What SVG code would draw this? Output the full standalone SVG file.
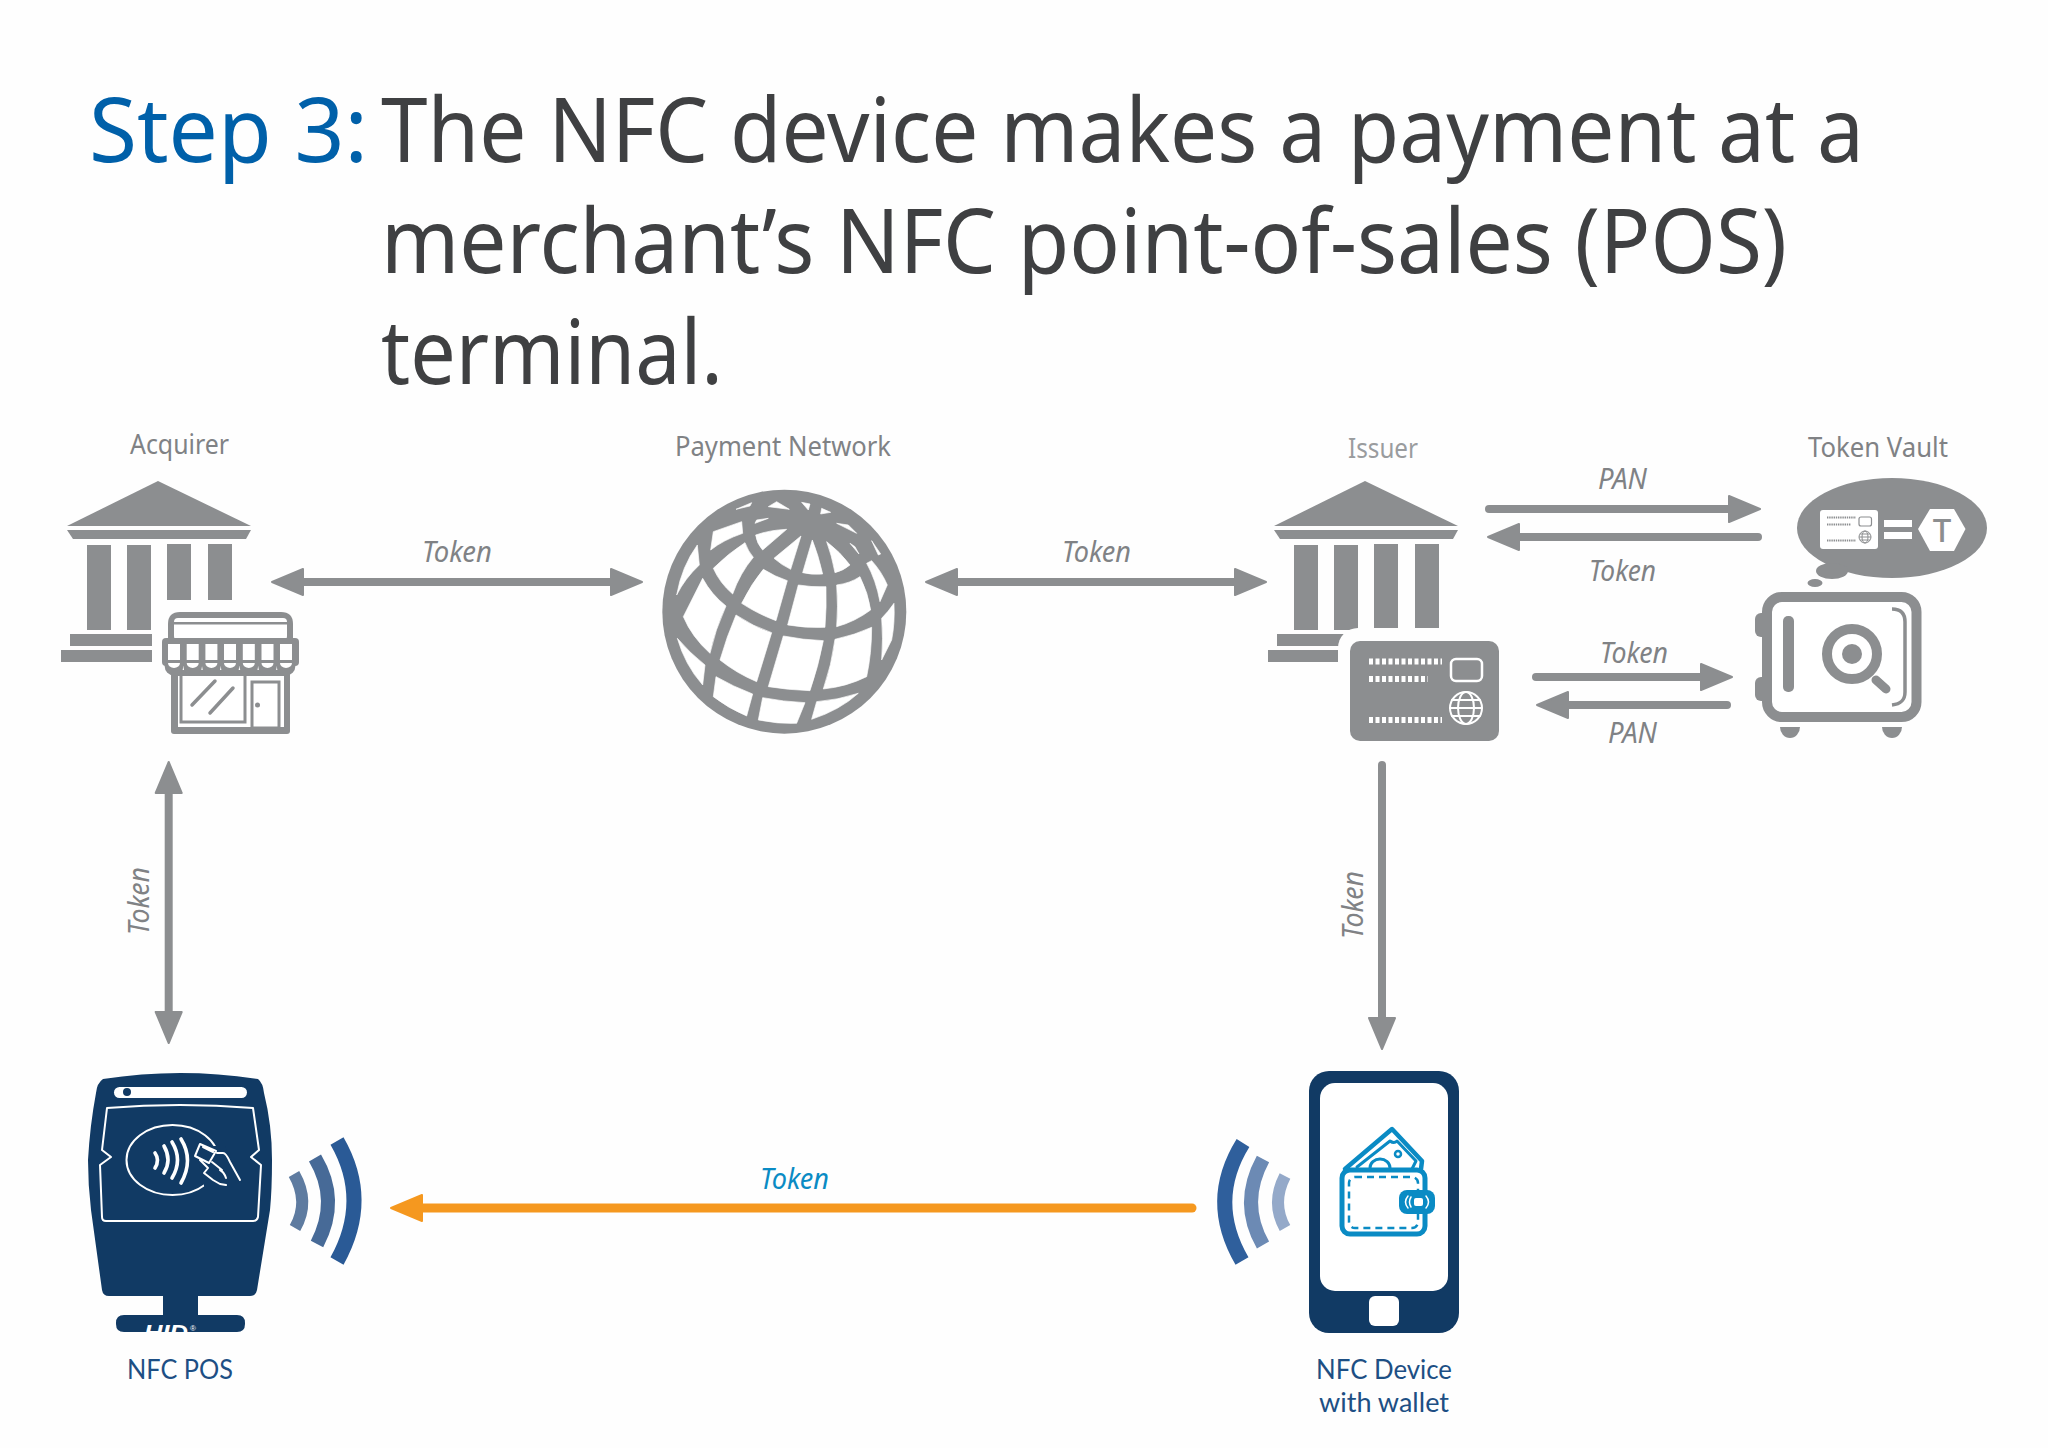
<svg xmlns="http://www.w3.org/2000/svg" xmlns:xlink="http://www.w3.org/1999/xlink" width="2048" height="1448" viewBox="0 0 2048 1448">
<style>
text{font-family:"Noto Sans","Open Sans","Liberation Sans",sans-serif}
.title{font-size:90px;fill:#3f4042}
.step{font-size:90px;fill:#0060a9}
.lab{font-size:27px;fill:#808285}
.tok{font-size:29px;fill:#808285;font-style:italic}
.nfc{font-size:27px;fill:#1d4f84;font-family:Lato,"Liberation Sans",sans-serif}
.g{fill:#8c8e90}
.conn{fill:none;stroke:#8c8e90;stroke-width:8;stroke-linecap:round}
.wave{fill:none;stroke-linecap:butt}
.w{fill:none;stroke:#fff;stroke-linecap:round;stroke-linejoin:round}
.wb{fill:none;stroke:#0a8bc4;stroke-linecap:round;stroke-linejoin:round}
</style>
<defs>
<marker id="head" markerUnits="userSpaceOnUse" markerWidth="40" markerHeight="34" refX="1" refY="17" orient="auto-start-reverse" viewBox="0 0 40 34"><path d="M1,4 L32,17 L1,30 Z" fill="#8c8e90" stroke="#8c8e90" stroke-width="2" stroke-linejoin="round"/></marker>
<marker id="headO" markerUnits="userSpaceOnUse" markerWidth="40" markerHeight="34" refX="1" refY="17" orient="auto-start-reverse" viewBox="0 0 40 34"><path d="M1,4 L32,17 L1,30 Z" fill="#f5981f" stroke="#f5981f" stroke-width="2" stroke-linejoin="round"/></marker>
<g id="bank" class="g">
<path d="M158,481 L251,526 H67 Z"/>
<path d="M67,530 H251 L246,539 H73 Z"/>
<rect x="87" y="545" width="24" height="85"/>
<rect x="127" y="545" width="24" height="85"/>
<rect x="167" y="544" width="24" height="86"/>
<rect x="208" y="544" width="24" height="86"/>
<rect x="70" y="634" width="100" height="12"/>
<rect x="61" y="650" width="100" height="12"/>
</g>
<path id="cres" d="M-6,663 h12 a6,5 0 0 1 -12 0 Z" fill="#fff"/>
<rect id="pan" x="-6" y="644" width="12" height="16" fill="#fff"/>
<clipPath id="hidclip"><rect x="130" y="1322" width="80" height="10"/></clipPath>
</defs>
<rect width="2048" height="1448" fill="#fefefe"/>

<g id="title">
<text class="step" x="89" y="162" textLength="279" lengthAdjust="spacingAndGlyphs">Step 3:</text>
<text class="title" x="381" y="162" textLength="1483" lengthAdjust="spacingAndGlyphs">The NFC device makes a payment at a</text>
<text class="title" x="381" y="273" textLength="1406" lengthAdjust="spacingAndGlyphs">merchant’s NFC point-of-sales (POS)</text>
<text class="title" x="381" y="384" textLength="342" lengthAdjust="spacingAndGlyphs">terminal.</text>
</g>

<g id="connectors">
<path class="conn" style="stroke-linecap:butt" d="M303,582 H611" marker-start="url(#head)" marker-end="url(#head)"/>
<path class="conn" style="stroke-linecap:butt" d="M957,582 H1235" marker-start="url(#head)" marker-end="url(#head)"/>
<path class="conn" d="M1489,509 H1729" marker-end="url(#head)"/>
<path class="conn" d="M1758,537 H1519" marker-end="url(#head)"/>
<path class="conn" d="M1536,677 H1701" marker-end="url(#head)"/>
<path class="conn" d="M1727,705 H1568" marker-end="url(#head)"/>
<path class="conn" style="stroke-linecap:butt" d="M168.7,793 V1012" marker-start="url(#head)" marker-end="url(#head)"/>
<path class="conn" d="M1382,765 V1018" marker-end="url(#head)"/>
<path class="conn" style="stroke:#f5981f;stroke-width:9" d="M1192,1208 H422" marker-end="url(#headO)"/>
<text class="tok" x="422" y="562" textLength="70" lengthAdjust="spacingAndGlyphs">Token</text>
<text class="tok" x="1062" y="562" textLength="69" lengthAdjust="spacingAndGlyphs">Token</text>
<text class="tok" x="1598" y="489" textLength="49" lengthAdjust="spacingAndGlyphs">PAN</text>
<text class="tok" x="1589" y="581" textLength="67" lengthAdjust="spacingAndGlyphs">Token</text>
<text class="tok" x="1600" y="663" textLength="68" lengthAdjust="spacingAndGlyphs">Token</text>
<text class="tok" x="1608" y="743" textLength="49" lengthAdjust="spacingAndGlyphs">PAN</text>
<text class="tok" transform="translate(149,935) rotate(-90)" x="0" y="0" textLength="68" lengthAdjust="spacingAndGlyphs">Token</text>
<text class="tok" transform="translate(1363,939) rotate(-90)" x="0" y="0" textLength="68" lengthAdjust="spacingAndGlyphs">Token</text>
<text class="tok" style="fill:#0a8bc4" x="760" y="1189" textLength="69" lengthAdjust="spacingAndGlyphs">Token</text>
</g>

<g id="acquirer">
<text class="lab" x="130" y="454" textLength="99" lengthAdjust="spacingAndGlyphs">Acquirer</text>
<use xlink:href="#bank" href="#bank"/>
<rect x="152" y="600" width="155" height="140" fill="#fefefe"/>
<g id="store">
<path class="g" d="M168,640 V624 Q168,612 180,612 H281 Q293,612 293,624 V640 Z"/>
<rect x="174" y="618" width="113" height="22" rx="4" fill="#fff"/>
<rect x="174" y="622" width="113" height="2.5" class="g"/>
<rect class="g" x="162" y="638" width="137" height="28" rx="4"/>
<rect class="g" x="171" y="670" width="119" height="64" rx="3"/>
<path d="M178,676 H284 V727 H178 Z" fill="#fff"/>
<g class="g"><circle cx="174" cy="666" r="9.4"/><circle cx="192.7" cy="666" r="9.4"/><circle cx="211.4" cy="666" r="9.4"/><circle cx="230" cy="666" r="9.4"/><circle cx="248.8" cy="666" r="9.4"/><circle cx="267.5" cy="666" r="9.4"/><circle cx="286" cy="666" r="9.4"/></g>
<use xlink:href="#pan" href="#pan" x="174"/><use xlink:href="#pan" href="#pan" x="192.7"/><use xlink:href="#pan" href="#pan" x="211.4"/><use xlink:href="#pan" href="#pan" x="230"/><use xlink:href="#pan" href="#pan" x="248.8"/><use xlink:href="#pan" href="#pan" x="267.5"/><use xlink:href="#pan" href="#pan" x="286"/>
<use xlink:href="#cres" href="#cres" x="174"/><use xlink:href="#cres" href="#cres" x="192.7"/><use xlink:href="#cres" href="#cres" x="211.4"/><use xlink:href="#cres" href="#cres" x="230"/><use xlink:href="#cres" href="#cres" x="248.8"/><use xlink:href="#cres" href="#cres" x="267.5"/><use xlink:href="#cres" href="#cres" x="286"/>
<path d="M181,674 V722 H245 V676" fill="none" stroke="#8c8e90" stroke-width="3"/>
<rect x="252" y="682" width="27" height="46" fill="none" stroke="#8c8e90" stroke-width="3"/>
<circle class="g" cx="257.500" cy="705" r="2.500"/>
<path d="M192,705 L215,681 M210,713 L233,688" stroke="#8c8e90" stroke-width="3.500" stroke-linecap="round"/>
</g>
</g>

<g id="payment-network">
<text class="lab" x="675" y="456" textLength="216" lengthAdjust="spacingAndGlyphs">Payment Network</text>
<g transform="translate(640,470) scale(0.3333)">
<circle cx="433" cy="425" r="366" fill="#8c8e90"/>
<g fill="#fff" stroke="#fff" stroke-width="2" stroke-linejoin="round">
<path d="M288,118 L335,98 L330,108 Z"/>
<path d="M385,110 L410,95 L448,118 Z"/>
<path d="M485,97 L510,102 L505,120 Z"/>
<path d="M545,115 L572,127 L542,132 Z"/>
<path d="M345,160 L385,145 L350,150 Z"/>
<path d="M590,160 L625,165 L650,190 Z"/>
<path d="M212,240 L220,185 L305,155 L308,190 Q250,210 212,240 Z"/>
<path d="M347,195 Q390,180 440,178 L368,240 Q350,220 347,195 Z"/>
<path d="M630,220 L645,230 L657,252 Z"/>
<path d="M695,212 L722,252 L715,255 Z"/>
<path d="M110,375 Q125,290 172,225 L178,285 Q135,325 110,375 Z"/>
<path d="M220,295 Q265,250 315,218 Q325,245 340,262 Q300,310 278,372 Q240,340 220,295 Z"/>
<path d="M402,265 L483,198 L452,298 Q425,285 402,265 Z"/>
<path d="M488,308 Q505,250 517,210 Q535,255 548,312 Q515,315 488,308 Z"/>
<path d="M560,215 Q600,245 630,285 Q610,302 585,308 Q575,255 560,215 Z"/>
<path d="M680,280 L695,272 Q725,305 742,345 L720,395 Q708,330 680,280 Z"/>
<path d="M130,440 L188,325 Q215,375 258,408 Q225,480 210,550 Q155,500 130,440 Z"/>
<path d="M305,400 Q335,340 370,298 Q405,320 442,332 L408,452 Q350,430 305,400 Z"/>
<path d="M475,345 Q515,352 558,350 Q560,410 555,472 Q500,475 443,465 Z"/>
<path d="M590,345 Q630,340 660,320 Q685,370 692,420 Q645,455 590,470 Q595,410 590,345 Z"/>
<path d="M725,445 Q745,425 762,400 Q765,460 755,510 L725,570 Q730,505 725,445 Z"/>
<path d="M240,570 Q260,500 288,435 Q340,470 395,488 L350,635 Q290,610 240,570 Z"/>
<path d="M430,498 Q490,510 550,512 Q535,590 510,662 Q445,660 385,650 Z"/>
<path d="M585,508 Q645,495 695,472 Q695,550 680,620 Q620,650 550,657 Q575,585 585,508 Z"/>
<path d="M112,505 Q150,550 195,585 L188,645 Q135,585 112,505 Z"/>
<path d="M228,620 Q280,650 338,672 L320,738 Q265,715 220,680 Z"/>
<path d="M368,683 Q430,695 495,698 L470,760 Q410,762 355,750 Z"/>
<path d="M530,695 Q595,690 655,670 Q600,720 515,748 Z"/>
</g>
</g>
</g>

<g id="issuer">
<text class="lab" style="fill:#9a9c9e" x="1348" y="458" textLength="70" lengthAdjust="spacingAndGlyphs">Issuer</text>
<use xlink:href="#bank" href="#bank" x="1207"/>
<rect x="1338" y="628" width="172" height="120" rx="20" fill="#fefefe"/>
<g id="card">
<rect class="g" x="1350" y="641" width="149" height="100" rx="10"/>
<path d="M1369,661.500 H1442 M1369,679 H1428 M1369,720 H1442" stroke="#fff" stroke-width="6" stroke-dasharray="4 2.500" fill="none"/>
<rect class="w" style="stroke-width:2.500" x="1451" y="659" width="31" height="22" rx="5"/>
<g class="w" style="stroke-width:2"><circle cx="1466" cy="708" r="16"/><ellipse cx="1466" cy="708" rx="8" ry="16"/><path d="M1452,700 H1480 M1450,708 H1482 M1452,716 H1480"/></g>
</g>
</g>

<g id="token-vault">
<text class="lab" x="1808" y="457" textLength="140" lengthAdjust="spacingAndGlyphs">Token Vault</text>
<g id="bubble">
<ellipse class="g" cx="1892" cy="528" rx="95" ry="50"/>
<ellipse class="g" cx="1832" cy="571" rx="16" ry="8"/>
<ellipse class="g" cx="1815" cy="583" rx="7.500" ry="4"/>
<rect x="1820" y="510" width="58" height="39" rx="3" fill="#fff"/>
<path d="M1827,517.500 H1856 M1827,524.500 H1851 M1827,540.500 H1856" stroke="#8c8e90" stroke-width="2.200" stroke-dasharray="1.400 .8" fill="none"/>
<rect x="1859" y="517" width="12.500" height="9" rx="2" fill="none" stroke="#8c8e90" stroke-width="1.200"/>
<g fill="none" stroke="#8c8e90" stroke-width="1"><circle cx="1865" cy="537" r="6"/><ellipse cx="1865" cy="537" rx="3" ry="6"/><path d="M1859,537 H1871 M1860,534 H1870 M1860,540 H1870"/></g>
<rect x="1884" y="520" width="28" height="7" fill="#fff"/>
<rect x="1884" y="532" width="28" height="7" fill="#fff"/>
<path d="M1918,529 L1930,509 H1954 L1965.500,529 L1954,551 H1930 Z" fill="#fff"/>
<text x="1942" y="542" text-anchor="middle" font-size="33" font-weight="500" fill="#8c8e90">T</text>
</g>
<g id="safe">
<rect class="g" x="1755" y="613" width="15" height="24" rx="6"/>
<rect class="g" x="1755" y="677" width="15" height="24" rx="6"/>
<rect x="1767" y="597" width="149.500" height="120" rx="15" fill="#fff" stroke="#8c8e90" stroke-width="10"/>
<rect class="g" x="1783" y="616" width="11" height="76" rx="5"/>
<circle cx="1852" cy="654" r="25" fill="none" stroke="#8c8e90" stroke-width="10"/>
<circle class="g" cx="1852" cy="654" r="10"/>
<path d="M1876,680 L1886,689" stroke="#8c8e90" stroke-width="9" stroke-linecap="round"/>
<path d="M1892,609 C1900,609 1905,613 1905,622 V692 C1905,701 1900,704 1892,705" fill="none" stroke="#8c8e90" stroke-width="3.500"/>
<path class="g" d="M1780,727 H1800 A10,11 0 0 1 1780,727 Z"/>
<path class="g" d="M1882,727 H1902 A10,11 0 0 1 1882,727 Z"/>
</g>
</g>

<g id="nfc-pos">
<path fill="#113a64" d="M103,1079 Q180,1067 258,1079 Q263,1083 264,1093 Q272,1125 272,1160 Q272,1190 270,1210 L257,1290 Q256,1296 250,1296 H198 V1315 H237 Q245,1315 245,1323 V1324 Q245,1332 237,1332 H124 Q116,1332 116,1324 V1323 Q116,1315 124,1315 H163 V1296 H109 Q103,1296 102,1290 L91,1210 Q88,1185 88,1160 Q90,1125 96,1093 Q97,1083 103,1079 Z"/>
<rect x="114" y="1087" width="133" height="11" rx="5.500" fill="#fff"/>
<circle cx="127" cy="1092" r="4" fill="#113a64"/>
<path class="w" style="stroke-width:2" d="M107,1108 Q180,1102 253,1108 L259,1150 L251,1157 L261,1165 L258,1217 Q257,1221 253,1221 H106 Q102,1221 102,1217 L100,1165 L111,1157 L102,1150 Z"/>
<ellipse class="w" style="stroke-width:2" cx="172.500" cy="1160" rx="46" ry="35"/>
<path fill="#113a64" d="M195,1146 H225 L242,1182 L226,1190 H205 Z"/>
<path class="w" style="stroke-width:3.600" d="M155,1153 Q160,1160 155,1168 M164,1146 Q172,1160 164,1173 M172,1142 Q183,1160 172,1178 M181,1139 Q194,1160 181,1183"/>
<path class="w" style="stroke-width:2" d="M200,1144 L216,1151 L209,1163 L195,1156 Z M203,1147 L213,1152 M217,1153 H223 Q226,1153 230,1162 L240,1180 M200,1160 L208,1168 L204,1173 L213,1180 L220,1184 L226,1185 M212,1162 L222,1170 M220,1170 Q224,1172 226,1178"/>
<g clip-path="url(#hidclip)"><text x="144" y="1340" font-size="22" font-weight="700" font-style="italic" fill="#fff" style="font-family:'Liberation Sans',sans-serif" textLength="44" lengthAdjust="spacingAndGlyphs">HID</text></g>
<text x="190" y="1331" font-size="8" fill="#fff" style="font-family:'Liberation Sans',sans-serif">®</text>
<path class="wave" stroke="#2a5a96" stroke-width="15" d="M337,1141 Q371,1200 337,1261"/>
<path class="wave" stroke="#476a97" stroke-width="14" d="M315,1158 Q340,1200 317,1244"/>
<path class="wave" stroke="#5e7ba0" stroke-width="12" d="M294,1174 Q310,1202 295,1228"/>
<text class="nfc" x="127" y="1379" textLength="106" lengthAdjust="spacingAndGlyphs">NFC POS</text>
</g>

<g id="nfc-device">
<rect x="1309" y="1071" width="150" height="262" rx="20" fill="#113a64"/>
<rect x="1320" y="1083" width="128" height="208" rx="15" fill="#fff"/>
<rect x="1369" y="1296" width="30" height="30" rx="6" fill="#fff"/>
<path class="wave" stroke="#2f5f9c" stroke-width="15" d="M1243,1143 Q1207,1201 1242,1261"/>
<path class="wave" stroke="#6c8ab4" stroke-width="14" d="M1263,1159 Q1239,1203 1263,1245"/>
<path class="wave" stroke="#94a9c9" stroke-width="12" d="M1285,1176 Q1271,1203 1285,1228"/>
<g id="wallet">
<path class="wb" style="stroke-width:4.500" d="M1345,1169 L1392,1129 L1422,1161 L1421,1169"/>
<path class="wb" style="stroke-width:3" d="M1357,1167 L1390,1141 Q1394,1144 1397,1141 L1416,1161 L1412,1169"/>
<path class="wb" style="stroke-width:3" d="M1370,1168 A10,9 0 0 1 1390,1168"/>
<circle class="wb" style="stroke-width:2.500" cx="1398" cy="1154" r="3"/>
<rect x="1342" y="1170" width="83" height="64" rx="8" fill="#fff" stroke="#0a8bc4" stroke-width="5"/>
<rect x="1349" y="1177" width="69" height="51" rx="6" fill="none" stroke="#0a8bc4" stroke-width="2.500" stroke-dasharray="7 5"/>
<rect x="1399" y="1190" width="36" height="24" rx="8" fill="#0a8bc4"/>
<path class="w" style="stroke-width:1.500" d="M1408,1196 Q1403,1202 1408,1208 M1411,1197 Q1408,1202 1411,1207 M1426,1196 Q1431,1202 1426,1208"/>
<rect x="1414" y="1198" width="9" height="8" rx="2" fill="#fff"/>
</g>
<text class="nfc" x="1316" y="1379" textLength="136" lengthAdjust="spacingAndGlyphs">NFC Device</text>
<text class="nfc" x="1319" y="1412" textLength="130" lengthAdjust="spacingAndGlyphs">with wallet</text>
</g>
</svg>
